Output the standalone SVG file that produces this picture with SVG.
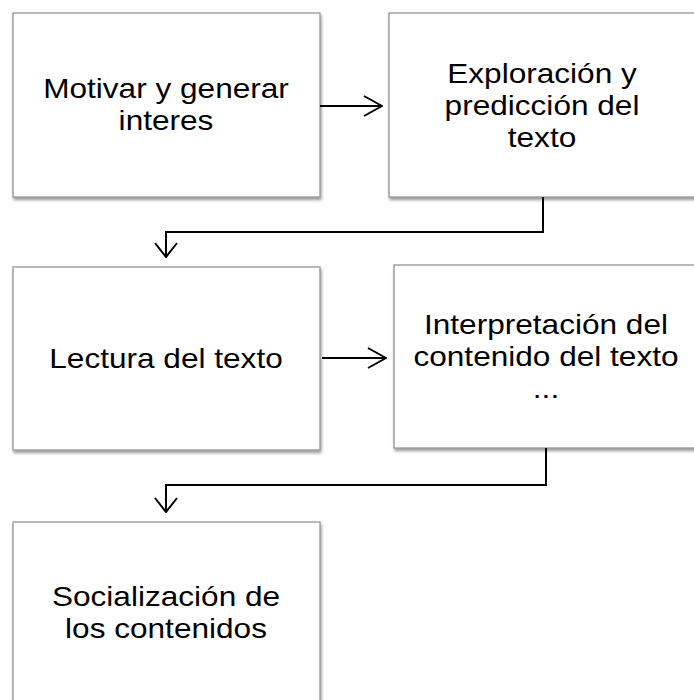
<svg xmlns="http://www.w3.org/2000/svg" width="694" height="700" viewBox="0 0 694 700">
<defs>
<filter id="sh" x="-5%" y="-5%" width="115%" height="115%">
<feDropShadow dx="1" dy="2.5" stdDeviation="1.5" flood-color="#000" flood-opacity="0.4"/>
</filter>
<marker id="ah" markerWidth="20" markerHeight="24" refX="19" refY="11" orient="auto" markerUnits="userSpaceOnUse">
<path d="M1,1 L19,11 L1,21" fill="none" stroke="#000" stroke-width="2"/>
</marker>
<marker id="av" markerWidth="16" markerHeight="26" refX="15" refY="12" orient="auto" markerUnits="userSpaceOnUse">
<path d="M1,1 L15,12 L1,23" fill="none" stroke="#000" stroke-width="2"/>
</marker>
</defs>
<style>
.box{fill:#fff;stroke:#8c8c8c;stroke-width:1.2;filter:url(#sh)}
.t{font-family:"Liberation Sans",Arial,sans-serif;font-size:27px;fill:#000;text-anchor:middle}
.c{fill:none;stroke:#000;stroke-width:2}
</style>
<rect width="694" height="700" fill="#fff"/>
<g id="n1"><rect class="box" x="13" y="13" width="307" height="184"/>
<g transform="translate(166,0) scale(1.17,1)"><text class="t" x="0" y="98">Motivar y generar</text><text class="t" x="0" y="130">interes</text></g></g>
<g id="n2"><rect class="box" x="389" y="13" width="306" height="184"/>
<g transform="translate(542,0) scale(1.17,1)"><text class="t" x="0" y="83">Exploración y</text><text class="t" x="0" y="115">predicción del</text><text class="t" x="0" y="147">texto</text></g></g>
<g id="n3"><rect class="box" x="13" y="267" width="307" height="183"/>
<g transform="translate(166,0) scale(1.17,1)"><text class="t" x="0" y="368">Lectura del texto</text></g></g>
<g id="n4"><rect class="box" x="394" y="265" width="306" height="183"/>
<g transform="translate(546,0) scale(1.17,1)"><text class="t" x="0" y="334">Interpretación del</text><text class="t" x="0" y="366">contenido del texto</text><text class="t" x="0" y="398">...</text></g></g>
<g id="n5"><rect class="box" x="13" y="522" width="307" height="183"/>
<g transform="translate(166,0) scale(1.17,1)"><text class="t" x="0" y="606">Socialización de</text><text class="t" x="0" y="638">los contenidos</text></g></g>
<g id="connectors">
<path class="c" d="M320,106 L382,106" marker-end="url(#ah)"/>
<path class="c" d="M543,197 L543,232 L166,232 L166,257" marker-end="url(#av)"/>
<path class="c" d="M322,358 L386,358" marker-end="url(#ah)"/>
<path class="c" d="M546,448 L546,485 L166,485 L166,512" marker-end="url(#av)"/>
</g>
</svg>
